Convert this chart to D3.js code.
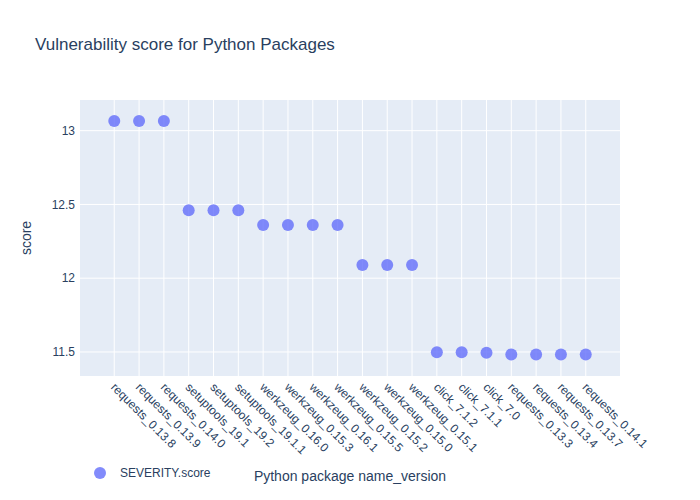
<!DOCTYPE html>
<html><head><meta charset="utf-8">
<script src="https://cdn.jsdelivr.net/npm/d3@7"></script>
<style>body{margin:0;background:#fff}svg{font-family:Arial,"Liberation Sans",sans-serif}</style>
</head><body>
<svg id="c" width="700" height="500"></svg>
<script>
const packages = ["requests_0.13.8","requests_0.13.9","requests_0.14.0","setuptools_19.1","setuptools_19.2","setuptools_19.1.1","werkzeug_0.16.0","werkzeug_0.15.3","werkzeug_0.16.1","werkzeug_0.15.5","werkzeug_0.15.2","werkzeug_0.15.0","werkzeug_0.15.1","click_7.1.2","click_7.1.1","click_7.0","requests_0.13.3","requests_0.13.4","requests_0.13.7","requests_0.14.1"];
const scores = [13.066,13.066,13.066,12.461,12.461,12.461,12.36,12.36,12.36,12.36,12.089,12.089,12.089,11.498,11.498,11.495,11.483,11.483,11.483,11.483];
const yTicks = [11.5,12,12.5,13];

const svg = d3.select("#c");
const L=80,R=620,T=100,B=376;
const x = d3.scaleLinear().domain([-1.38, packages.length-1+1.38]).range([L,R]);
const y = d3.scaleLinear().domain([11.337,13.208]).range([B,T]);
const fc="#2a3f5f";

svg.append("rect").attr("x",L).attr("y",T).attr("width",R-L).attr("height",B-T).attr("fill","#e5ecf6");
const g=svg.append("g");
g.selectAll(".vg").data(packages).join("line").attr("x1",(d,i)=>x(i)).attr("x2",(d,i)=>x(i)).attr("y1",T).attr("y2",B).attr("stroke","#fff").attr("stroke-width",1);
g.selectAll(".hg").data(yTicks).join("line").attr("x1",L).attr("x2",R).attr("y1",d=>y(d)).attr("y2",d=>y(d)).attr("stroke","#fff").attr("stroke-width",1);

svg.append("g").selectAll("text").data(yTicks).join("text")
  .attr("x",L-5).attr("y",d=>y(d)).attr("dy","0.35em").attr("text-anchor","end")
  .attr("font-size",12).attr("fill",fc).text(d=>d);

svg.append("g").selectAll("text").data(packages).join("text")
  .attr("transform",(d,i)=>`translate(${x(i)-1},${B+9}) rotate(45)`)
  .attr("dy","0.35em").attr("text-anchor","start")
  .attr("font-size",12).attr("fill",fc).text(d=>d);

svg.append("g").selectAll("circle").data(scores).join("circle")
  .attr("cx",(d,i)=>x(i)).attr("cy",d=>y(d)).attr("r",6)
  .attr("fill","#636efa").attr("fill-opacity",0.8);

svg.append("text").attr("x",35).attr("y",50).attr("font-size",17).attr("fill",fc).text("Vulnerability score for Python Packages");
svg.append("text").attr("transform",`translate(31,${(T+B)/2}) rotate(-90)`).attr("text-anchor","middle").attr("font-size",14).attr("fill",fc).text("score");
svg.append("text").attr("x",350).attr("y",481).attr("text-anchor","middle").attr("font-size",14).attr("fill",fc).text("Python package name_version");

svg.append("circle").attr("cx",100).attr("cy",473).attr("r",6).attr("fill","#636efa").attr("fill-opacity",0.8);
svg.append("text").attr("x",120).attr("y",473).attr("dy","0.35em").attr("font-size",12).attr("fill",fc).text("SEVERITY.score");
</script>
</body></html>
